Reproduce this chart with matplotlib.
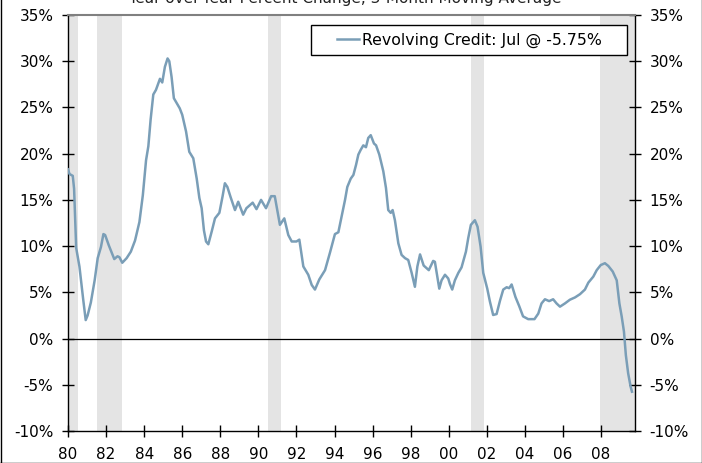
import matplotlib
matplotlib.use("Agg")
import matplotlib.pyplot as plt
from matplotlib.lines import Line2D
from matplotlib.patches import Rectangle

# ---- data (decimal year, YoY % change, 3-month moving average) ----
dates = [
    1980.00, 1980.08, 1980.25, 1980.32, 1980.43, 1980.60, 1980.80, 1980.93,
    1981.03, 1981.20, 1981.40, 1981.56, 1981.73, 1981.86, 1981.95, 1982.14,
    1982.43, 1982.60, 1982.70, 1982.85, 1983.08, 1983.30, 1983.52, 1983.75,
    1983.93, 1984.02, 1984.10, 1984.22, 1984.34, 1984.48, 1984.62, 1984.74,
    1984.83, 1984.95, 1985.09, 1985.23, 1985.32, 1985.44, 1985.56, 1985.70,
    1985.87, 1986.00, 1986.20, 1986.37, 1986.58, 1986.76, 1986.90, 1987.02,
    1987.14, 1987.25, 1987.37, 1987.55, 1987.72, 1987.95, 1988.12, 1988.24,
    1988.37, 1988.54, 1988.77, 1988.94, 1989.20, 1989.37, 1989.70, 1989.90,
    1990.14, 1990.40, 1990.67, 1990.86, 1991.13, 1991.36, 1991.57, 1991.75,
    1992.00, 1992.15, 1992.36, 1992.62, 1992.80, 1992.97, 1993.20, 1993.50,
    1993.76, 1994.02, 1994.20, 1994.37, 1994.55, 1994.67, 1994.85, 1994.99,
    1995.13, 1995.25, 1995.37, 1995.51, 1995.65, 1995.77, 1995.90, 1996.07,
    1996.18, 1996.35, 1996.56, 1996.70, 1996.82, 1996.95, 1997.05, 1997.17,
    1997.35, 1997.52, 1997.70, 1997.87, 1998.05, 1998.22, 1998.35, 1998.49,
    1998.68, 1998.95, 1999.18, 1999.27, 1999.50, 1999.62, 1999.80, 1999.97,
    2000.06, 2000.18, 2000.32, 2000.50, 2000.67, 2000.90, 2001.02, 2001.16,
    2001.37, 2001.51, 2001.67, 2001.81, 2002.02, 2002.16, 2002.33, 2002.51,
    2002.69, 2002.86, 2003.04, 2003.17, 2003.30, 2003.50, 2003.70, 2003.90,
    2004.17, 2004.50, 2004.70, 2004.87, 2005.05, 2005.27, 2005.48, 2005.66,
    2005.84, 2006.10, 2006.36, 2006.63, 2006.89, 2007.15, 2007.33, 2007.59,
    2007.77, 2007.98, 2008.20, 2008.38, 2008.61, 2008.82, 2008.96, 2009.08,
    2009.20, 2009.30, 2009.42, 2009.55, 2009.62,
]
revolving = [
    18.3, 17.8, 17.6, 16.2, 9.8, 7.8, 4.2, 2.0,
    2.5, 3.9, 6.3, 8.7, 9.9, 11.3, 11.2, 10.1,
    8.6, 8.9, 8.8, 8.2, 8.7, 9.4, 10.6, 12.6,
    15.5, 17.5, 19.3, 20.8, 23.7, 26.4, 26.9, 27.6,
    28.1, 27.7, 29.4, 30.3, 30.0, 28.3, 26.0, 25.5,
    24.9, 24.2, 22.4, 20.2, 19.5, 17.3, 15.2, 14.1,
    11.7, 10.5, 10.2, 11.6, 13.0, 13.6, 15.4, 16.8,
    16.4, 15.3, 13.9, 14.8, 13.4, 14.1, 14.7, 14.0,
    15.0, 14.1, 15.4, 15.4, 12.3, 13.0, 11.2, 10.5,
    10.5, 10.7, 7.8, 6.9, 5.8, 5.3, 6.4, 7.4,
    9.3, 11.3, 11.5, 13.2, 15.0, 16.4, 17.3, 17.7,
    18.8, 19.9, 20.4, 20.9, 20.7, 21.7, 22.0, 21.1,
    20.9, 19.9, 18.1, 16.3, 13.9, 13.6, 13.9, 12.8,
    10.3, 9.05, 8.7, 8.5, 7.1, 5.6, 7.8, 9.1,
    7.9, 7.4, 8.4, 8.3, 5.4, 6.3, 6.9, 6.5,
    5.9, 5.3, 6.3, 7.1, 7.7, 9.4, 10.85, 12.3,
    12.8, 12.1, 9.95, 7.1, 5.4, 4.0, 2.55, 2.65,
    4.1, 5.3, 5.55, 5.45, 5.85, 4.5, 3.5, 2.4,
    2.1, 2.1, 2.7, 3.8, 4.25, 4.05, 4.25, 3.8,
    3.45, 3.8, 4.2, 4.45, 4.8, 5.3, 6.05, 6.7,
    7.4, 7.95, 8.15, 7.85, 7.25, 6.3, 3.8, 2.4,
    0.75, -1.8, -3.75, -5.2, -5.75,
]
recession_starts = [1980.00, 1981.50, 1990.50, 2001.17, 2007.92]
recession_ends = [1980.50, 1982.85, 1991.17, 2001.83, 2009.80]
x_tick_years = list(range(1980, 2009, 2))
x_tick_labels = ["80", "82", "84", "86", "88", "90", "92", "94", "96", "98",
                 "00", "02", "04", "06", "08"]
y_ticks = [-10, -5, 0, 5, 10, 15, 20, 25, 30, 35]
series_label = "Revolving Credit: Jul @ -5.75%"
title = "Year-over-Year Percent Change, 3-Month Moving Average"

plt.rcParams["font.family"] = ["DejaVu Sans"]

W, H = 702, 463
fig = plt.figure(figsize=(W / 100, H / 100), dpi=100)
ax = fig.add_axes([68 / W, 1 - 431 / H, (635 - 68) / W, (431 - 15) / H])

for s, e in zip(recession_starts, recession_ends):
    ax.axvspan(s, e, color="#e4e4e4", lw=0, zorder=0)

ax.axhline(0, color="black", lw=0.9, zorder=1)
line, = ax.plot(dates, revolving, color="#7a9eb7", lw=1.8, zorder=3,
                solid_joinstyle="round")

ax.set_xlim(1980, 2009.78)
ax.set_ylim(-10, 35)
ax.set_xticks(x_tick_years)
ax.set_xticklabels(x_tick_labels)
ax.set_yticks(y_ticks)
ax.set_yticklabels([f"{v}%" for v in y_ticks])

ax.tick_params(axis="both", direction="inout", length=8, width=1,
               labelsize=11, colors="black")
ax.tick_params(axis="y", right=True, labelright=True, pad=6.5)
ax.tick_params(axis="x", pad=7.5)

for side in ["left", "right", "bottom"]:
    ax.spines[side].set_color("black")
    ax.spines[side].set_linewidth(1.0)
ax.spines["top"].set_color("#808080")
ax.spines["top"].set_linewidth(1.5)

# legend content (no frame) centred in a drawn box
box_l, box_r, box_t, box_b = 311, 627, 25, 55
leg = fig.legend([line], [series_label], loc="center",
                 bbox_to_anchor=((box_l + box_r) / 2 / W,
                                 1 - (box_t + box_b) / 2 / H),
                 frameon=False, fontsize=11.3, handlelength=1.45,
                 handletextpad=0.15, borderpad=0, borderaxespad=0)
fig.add_artist(Rectangle((box_l / W, 1 - box_b / H),
                         (box_r - box_l) / W, (box_b - box_t) / H,
                         transform=fig.transFigure, fill=True,
                         facecolor="white", edgecolor="black", lw=1.0,
                         zorder=4))
leg.set_zorder(5)

fig.text(345 / W, 1 - 3 / H, title, ha="center", va="baseline",
         fontsize=11, color="#222222")

# figure border
for xs, ys in [([0.5 / W, 0.5 / W], [0, 1]),
               ([1 - 0.5 / W, 1 - 0.5 / W], [0, 1]),
               ([0, 1], [0.5 / H, 0.5 / H])]:
    fig.add_artist(Line2D(xs, ys, color="black", lw=1.0,
                          transform=fig.transFigure))

fig.savefig("out.png", dpi=100)
